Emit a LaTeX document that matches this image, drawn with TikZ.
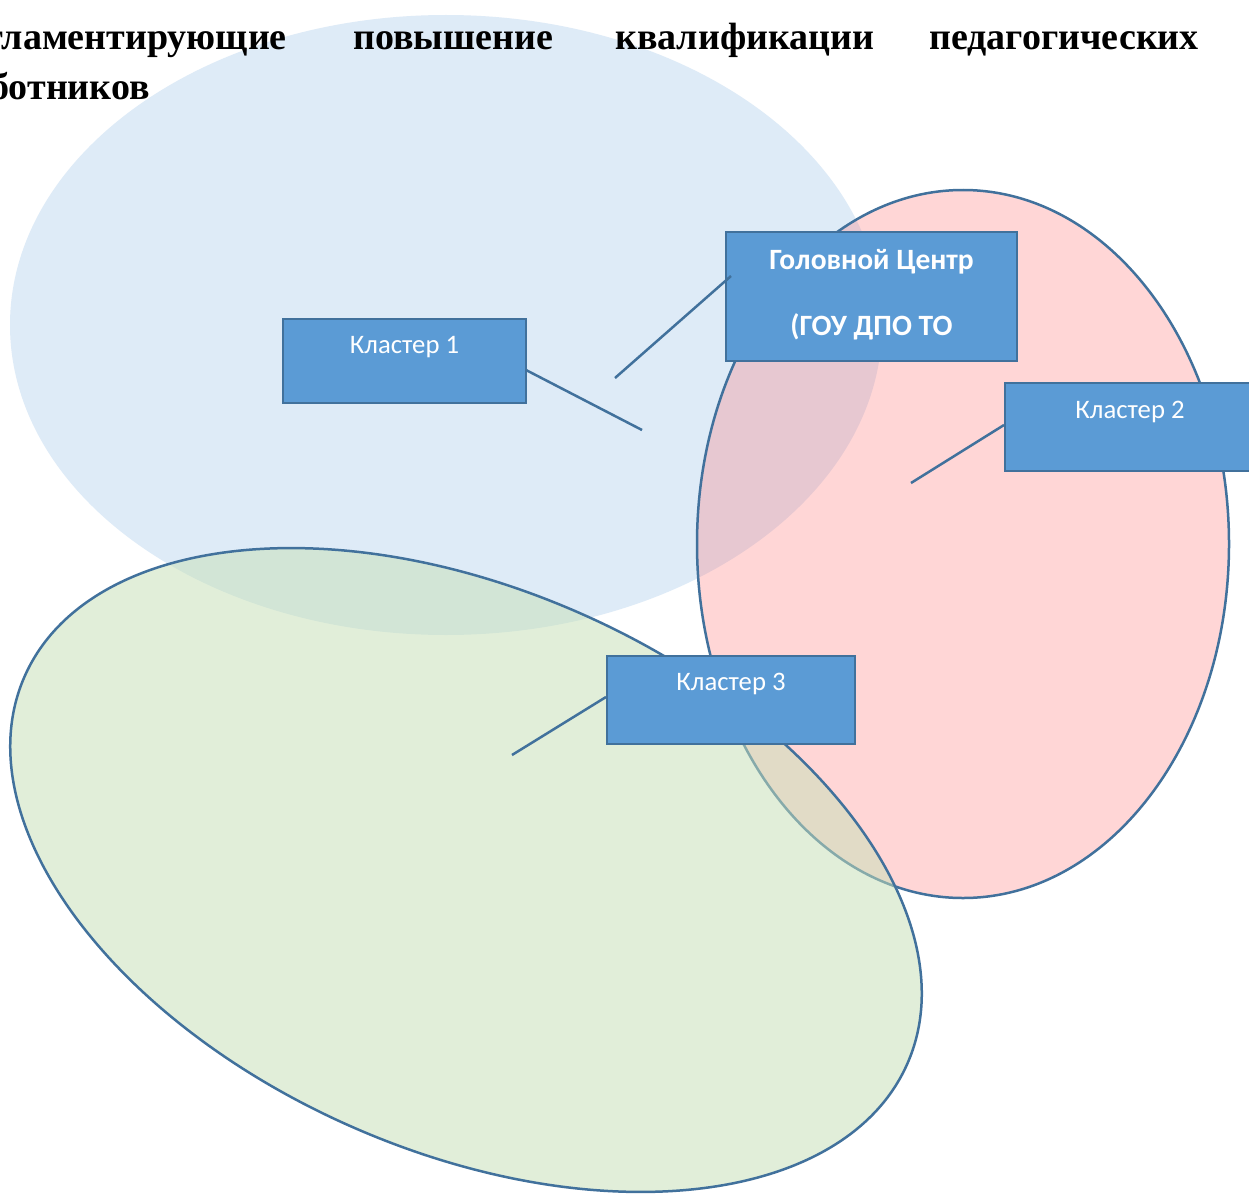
\documentclass[tikz,border=0pt]{standalone}
\usepackage{fontspec}
\setmainfont{Liberation Serif}
\newfontfamily\carlito{Carlito}
\definecolor{blueell}{RGB}{222,235,247}
\definecolor{redell}{RGB}{255,122,122}
\definecolor{greenell}{RGB}{199,224,184}
\definecolor{edge}{RGB}{65,113,156}
\definecolor{boxfill}{RGB}{91,155,213}
\definecolor{boxedge}{RGB}{65,113,156}
\begin{document}
\begin{tikzpicture}[x=1pt,y=-1pt,
  cbox/.style={draw=boxedge,line width=2.8pt,fill=boxfill,rectangle,inner sep=0pt},
  btext/.style={text=white,font=\carlito\fontsize{26.7}{32}\selectfont,inner sep=0pt},
  bbold/.style={text=white,font=\carlito\bfseries\fontsize{29.5}{34}\selectfont,inner sep=0pt},
  conn/.style={draw=edge,line width=2.5pt},
  title/.style={font=\bfseries\fontsize{38}{46}\selectfont,inner sep=0pt,text=black},
  ell/.style={draw=edge,line width=2.5pt}]
\useasboundingbox (0,0) rectangle (1249,1193);
\fill[white] (0,0) rectangle (1249,1193);
% blue ellipse (no border)
\fill[blueell] (446,325) ellipse [x radius=436pt, y radius=310pt];
% red ellipse
\fill[redell,fill opacity=0.3] (963,544) ellipse [x radius=266pt, y radius=354pt];
\draw[ell] (963,544) ellipse [x radius=266pt, y radius=354pt];
% green ellipse
\begin{scope}[rotate around={-23.65:(466,870)}]
\fill[greenell,fill opacity=0.52] (466,870) ellipse [x radius=482pt, y radius=281pt];
\draw[ell] (466,870) ellipse [x radius=482pt, y radius=281pt];
\end{scope}
% title
\node[title,anchor=base east] (w1) at (287,50) {гламентирующие};
\node[title,anchor=base west] (w2) at (353,50) {повышение};
\node[title,anchor=base west] (w3) at (615,50) {квалификации};
\node[title,anchor=base east] (w4) at (1199,50) {педагогических};
\node[title,anchor=base east] (w5) at (150,100) {ботников};
% boxes
\node[cbox,minimum width=243pt,minimum height=84pt] (k1) at (404.5,361) {};
\node[btext] (k1t) at (404.5,347) {Кластер 1};
\node[cbox,minimum width=291pt,minimum height=129pt] (hc) at (871.5,296.5) {};
\node[bbold] (hct1) at (871.5,262) {Головной Центр};
\node[bbold] (hct2) at (871.5,327) {(ГОУ ДПО ТО};
\node[cbox,minimum width=250pt,minimum height=88pt] (k2) at (1130,427) {};
\node[btext] (k2t) at (1130,412) {Кластер 2};
\node[cbox,minimum width=248pt,minimum height=88pt] (k3) at (731,700) {};
\node[btext] (k3t) at (731,684) {Кластер 3};
% connector ends
\coordinate (e1) at (642,430);
\coordinate (e2) at (615,378);
\coordinate (e3) at (911,483);
\coordinate (e4) at (512,755);
\coordinate (s1) at (526,370);
\coordinate (s2) at (731,276);
\coordinate (s3) at (1004,425);
\coordinate (s4) at (606,697);
\draw[conn] (s1) -- (e1);
\draw[conn] (s2) -- (e2);
\draw[conn] (s3) -- (e3);
\draw[conn] (s4) -- (e4);
\end{tikzpicture}
\end{document}
